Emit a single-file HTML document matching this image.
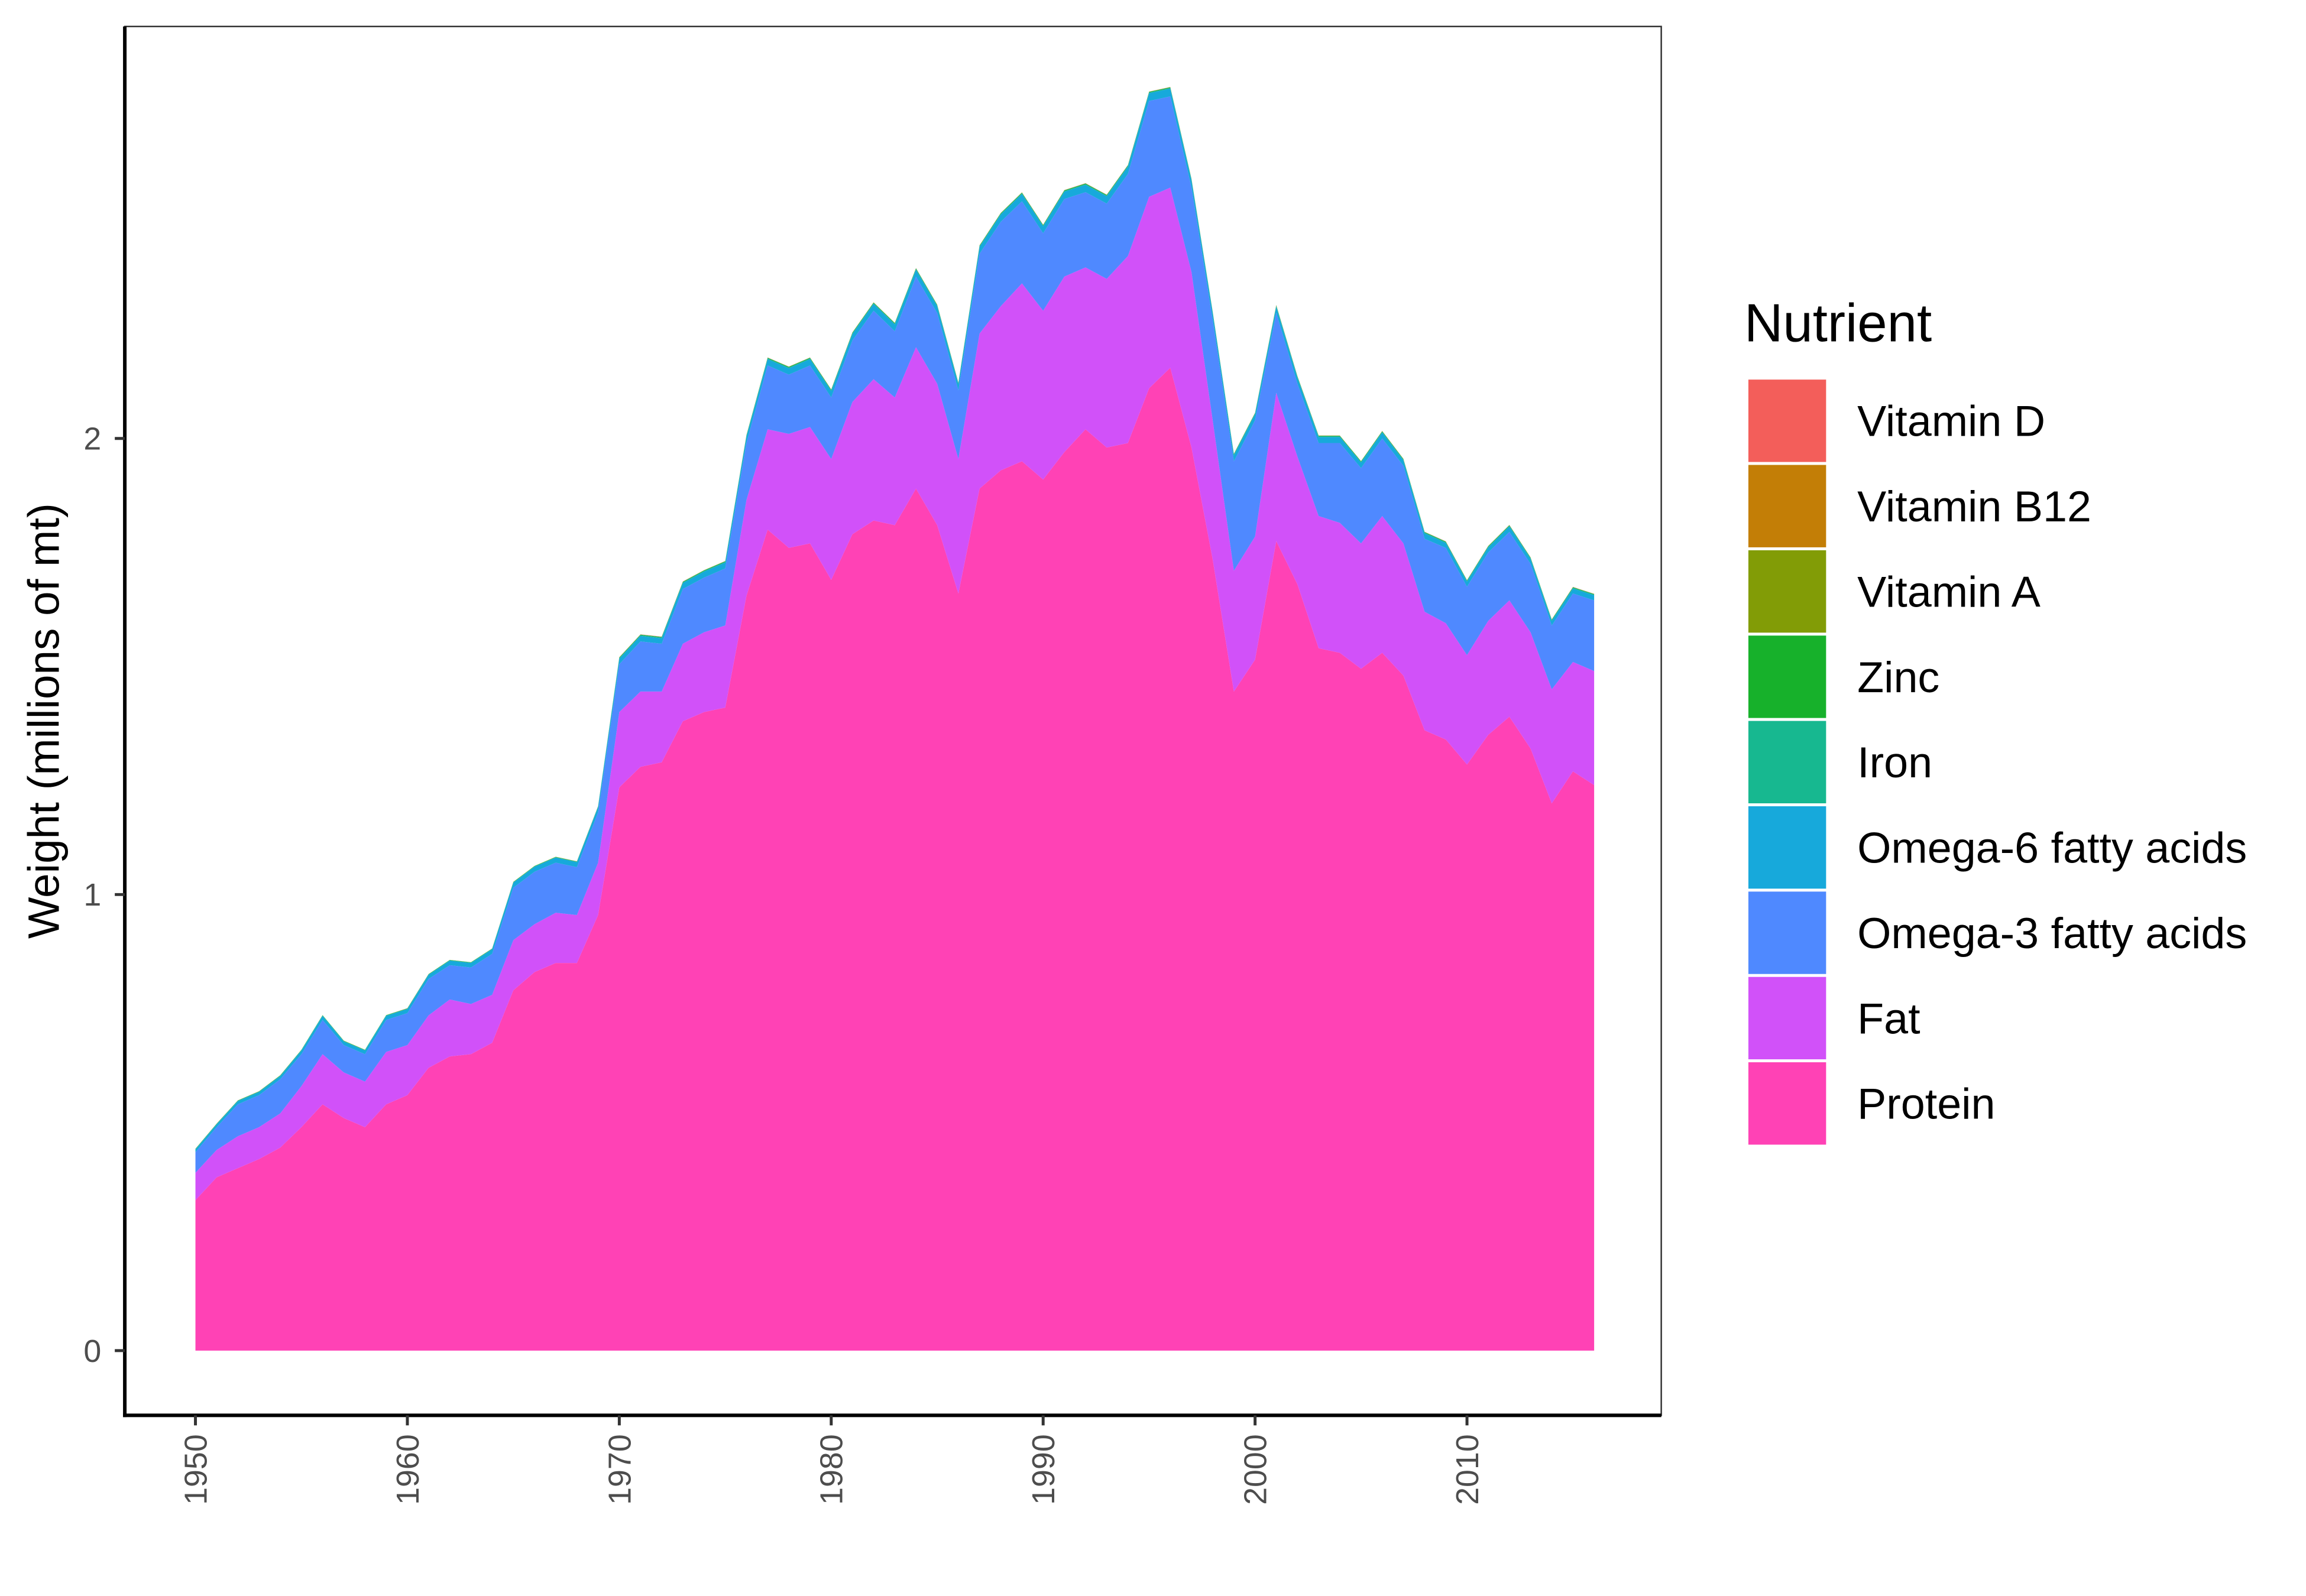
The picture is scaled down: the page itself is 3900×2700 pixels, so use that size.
<!DOCTYPE html>
<html><head><meta charset="utf-8">
<style>
html,body{margin:0;padding:0;background:#fff;}
svg{display:block;font-family:"Liberation Sans",Arial,sans-serif;}
</style></head>
<body>
<svg id="chart" width="3900" height="2700" viewBox="0 0 3900 2700" xmlns="http://www.w3.org/2000/svg">
<rect x="0" y="0" width="3900" height="2700" fill="#fff"/>
<g transform="scale(0.9956)">
<g id="areas"></g>
<rect x="212" y="45" width="2610" height="2360" fill="none" stroke="#333" stroke-width="2.5"/>
<line x1="212" y1="45" x2="212" y2="2408" stroke="#000" stroke-width="6"/>
<line x1="209" y1="2405" x2="2822" y2="2405" stroke="#000" stroke-width="6"/>
<g id="yticks"></g>
<g id="xticks"></g>
<text transform="translate(100,1225) rotate(-90)" text-anchor="middle" font-size="75" fill="#000">Weight (millions of mt)</text>
<g id="legend">
<text x="2963" y="580" font-size="91" fill="#000">Nutrient</text>
</g>
</g>
</svg>
<script>
const years = [1950,1951,1952,1953,1954,1955,1956,1957,1958,1959,1960,1961,1962,1963,1964,1965,1966,1967,1968,1969,1970,1971,1972,1973,1974,1975,1976,1977,1978,1979,1980,1981,1982,1983,1984,1985,1986,1987,1988,1989,1990,1991,1992,1993,1994,1995,1996,1997,1998,1999,2000,2001,2002,2003,2004,2005,2006,2007,2008,2009,2010,2011,2012,2013,2014,2015,2016];
const protein = [0.33,0.38,0.40,0.42,0.445,0.49,0.54,0.51,0.49,0.54,0.56,0.62,0.645,0.65,0.675,0.79,0.83,0.85,0.85,0.955,1.235,1.28,1.29,1.38,1.40,1.41,1.655,1.80,1.76,1.77,1.69,1.79,1.82,1.81,1.89,1.81,1.66,1.89,1.93,1.95,1.91,1.97,2.02,1.98,1.99,2.11,2.155,1.98,1.735,1.445,1.515,1.775,1.68,1.54,1.53,1.495,1.53,1.48,1.36,1.34,1.285,1.35,1.39,1.32,1.20,1.27,1.24];
const fat = [0.06,0.06,0.07,0.07,0.075,0.09,0.11,0.10,0.10,0.115,0.11,0.115,0.125,0.11,0.105,0.11,0.105,0.11,0.105,0.115,0.165,0.165,0.155,0.17,0.175,0.18,0.21,0.22,0.25,0.255,0.265,0.29,0.31,0.28,0.31,0.31,0.295,0.34,0.36,0.39,0.37,0.385,0.355,0.37,0.41,0.42,0.395,0.385,0.305,0.265,0.27,0.325,0.28,0.29,0.285,0.275,0.30,0.29,0.26,0.255,0.24,0.25,0.255,0.255,0.25,0.24,0.25];
const omega3 = [0.045,0.05,0.07,0.07,0.075,0.07,0.075,0.06,0.06,0.07,0.07,0.08,0.075,0.08,0.09,0.115,0.115,0.11,0.105,0.11,0.105,0.11,0.105,0.12,0.12,0.125,0.125,0.14,0.13,0.135,0.135,0.135,0.15,0.145,0.155,0.155,0.15,0.175,0.185,0.18,0.17,0.17,0.165,0.165,0.18,0.21,0.20,0.185,0.22,0.24,0.255,0.175,0.16,0.16,0.175,0.165,0.17,0.17,0.16,0.165,0.15,0.15,0.15,0.15,0.14,0.15,0.155];
const omega6 = [0.006,0.006,0.007,0.007,0.007,0.008,0.009,0.008,0.008,0.009,0.009,0.009,0.01,0.01,0.01,0.011,0.011,0.011,0.011,0.012,0.012,0.012,0.012,0.013,0.013,0.013,0.014,0.014,0.014,0.014,0.014,0.014,0.015,0.015,0.015,0.015,0.014,0.015,0.016,0.016,0.015,0.016,0.016,0.016,0.016,0.017,0.017,0.016,0.015,0.013,0.013,0.014,0.013,0.013,0.013,0.012,0.013,0.012,0.012,0.011,0.011,0.011,0.012,0.011,0.01,0.011,0.011];
const iron = [0.001,0.001,0.001,0.001,0.001,0.001,0.001,0.001,0.001,0.001,0.001,0.001,0.001,0.001,0.001,0.001,0.001,0.001,0.001,0.001,0.002,0.002,0.002,0.002,0.002,0.002,0.002,0.002,0.002,0.002,0.002,0.002,0.002,0.002,0.002,0.002,0.002,0.002,0.002,0.002,0.002,0.002,0.002,0.002,0.002,0.002,0.002,0.002,0.002,0.002,0.002,0.002,0.002,0.002,0.002,0.002,0.002,0.002,0.002,0.002,0.002,0.002,0.002,0.002,0.002,0.002,0.002];
const zinc = [0.0005,0.0005,0.0005,0.0005,0.0005,0.0005,0.0005,0.0005,0.0005,0.0005,0.0005,0.0005,0.0005,0.0005,0.0005,0.0006,0.0006,0.0006,0.0006,0.0006,0.0008,0.0008,0.0008,0.0008,0.0008,0.0008,0.001,0.001,0.001,0.001,0.001,0.001,0.001,0.001,0.001,0.001,0.001,0.001,0.001,0.001,0.001,0.001,0.001,0.001,0.001,0.001,0.001,0.001,0.001,0.0009,0.0009,0.001,0.001,0.0009,0.0009,0.0009,0.0009,0.0009,0.0008,0.0008,0.0008,0.0008,0.0008,0.0008,0.0008,0.0008,0.0008];
const vitaminA = [0.0001,0.0001,0.0001,0.0001,0.0001,0.0001,0.0001,0.0001,0.0001,0.0001,0.0001,0.0001,0.0001,0.0001,0.0001,0.0001,0.0001,0.0001,0.0001,0.0001,0.0002,0.0002,0.0002,0.0002,0.0002,0.0002,0.0002,0.0002,0.0002,0.0002,0.0002,0.0002,0.0002,0.0002,0.0002,0.0002,0.0002,0.0002,0.0002,0.0002,0.0002,0.0002,0.0002,0.0002,0.0002,0.0002,0.0002,0.0002,0.0002,0.0002,0.0002,0.0002,0.0002,0.0002,0.0002,0.0002,0.0002,0.0002,0.0002,0.0002,0.0002,0.0002,0.0002,0.0002,0.0002,0.0002,0.0002];
const vitaminB12 = vitaminA.slice();
const vitaminD = vitaminA.slice();
const nutrients = ["Vitamin D","Vitamin B12","Vitamin A","Zinc","Iron","Omega-6 fatty acids","Omega-3 fatty acids","Fat","Protein"];
const colors = ["#F35E5A","#C37E06","#829C06","#17B12B","#17B890","#17A9DB","#4F89FF","#D151F9","#FF42B5"];
const yTicks = [0,1,2];
const xTicks = [1950,1960,1970,1980,1990,2000,2010];

const NS = "http://www.w3.org/2000/svg";
function xS(yr){ return 332 + (yr - 1950) * 36; }
function yS(v){ return 2295 - v * 775; }

const stack = [protein, fat, omega3, omega6, iron, zinc, vitaminA, vitaminB12, vitaminD];
const stackNames = ["Protein","Fat","Omega-3 fatty acids","Omega-6 fatty acids","Iron","Zinc","Vitamin A","Vitamin B12","Vitamin D"];
const areas = document.getElementById('areas');
let base = years.map(()=>0);
stack.forEach((series, si) => {
  const top = base.map((b,i)=>b+series[i]);
  let d = "M" + years.map((yr,i)=>xS(yr).toFixed(1)+","+yS(top[i]).toFixed(1)).join(" L");
  for (let i = years.length-1; i >= 0; i--) d += " L" + xS(years[i]).toFixed(1) + "," + yS(base[i]).toFixed(1);
  d += " Z";
  const p = document.createElementNS(NS, 'path');
  p.setAttribute('d', d);
  p.setAttribute('fill', colors[nutrients.indexOf(stackNames[si])]);
  
  
  areas.appendChild(p);
  base = top;
});

const yt = document.getElementById('yticks');
yTicks.forEach(v => {
  const l = document.createElementNS(NS,'line');
  l.setAttribute('x1',195); l.setAttribute('x2',212);
  l.setAttribute('y1',yS(v)); l.setAttribute('y2',yS(v));
  l.setAttribute('stroke','#333'); l.setAttribute('stroke-width','5');
  
  
  yt.appendChild(l);
  const t = document.createElementNS(NS,'text');
  t.setAttribute('x',172); t.setAttribute('y',yS(v)+19);
  t.setAttribute('text-anchor','end'); t.setAttribute('font-size','54'); t.setAttribute('fill','#4d4d4d');
  t.textContent = v;
  
  
  yt.appendChild(t);
});
const xt = document.getElementById('xticks');
xTicks.forEach(v => {
  const l = document.createElementNS(NS,'line');
  l.setAttribute('x1',xS(v)); l.setAttribute('x2',xS(v));
  l.setAttribute('y1',2405); l.setAttribute('y2',2422);
  l.setAttribute('stroke','#333'); l.setAttribute('stroke-width','5');
  
  
  xt.appendChild(l);
  const t = document.createElementNS(NS,'text');
  t.setAttribute('transform','translate('+(xS(v)+19)+',2437) rotate(-90)');
  t.setAttribute('text-anchor','end'); t.setAttribute('font-size','54'); t.setAttribute('fill','#4d4d4d');
  t.textContent = v;
  
  
  xt.appendChild(t);
});
const lg = document.getElementById('legend');
nutrients.forEach((n, i) => {
  const top = 645 + i * 145;
  const r = document.createElementNS(NS,'rect');
  r.setAttribute('x',2970); r.setAttribute('y',top);
  r.setAttribute('width',132); r.setAttribute('height',140);
  r.setAttribute('fill',colors[i]);
  
  
  lg.appendChild(r);
  const t = document.createElementNS(NS,'text');
  t.setAttribute('x',3155); t.setAttribute('y',top+96);
  t.setAttribute('font-size','74'); t.setAttribute('fill','#000');
  t.textContent = n;
  
  
  lg.appendChild(t);
});
</script>
</body></html>
